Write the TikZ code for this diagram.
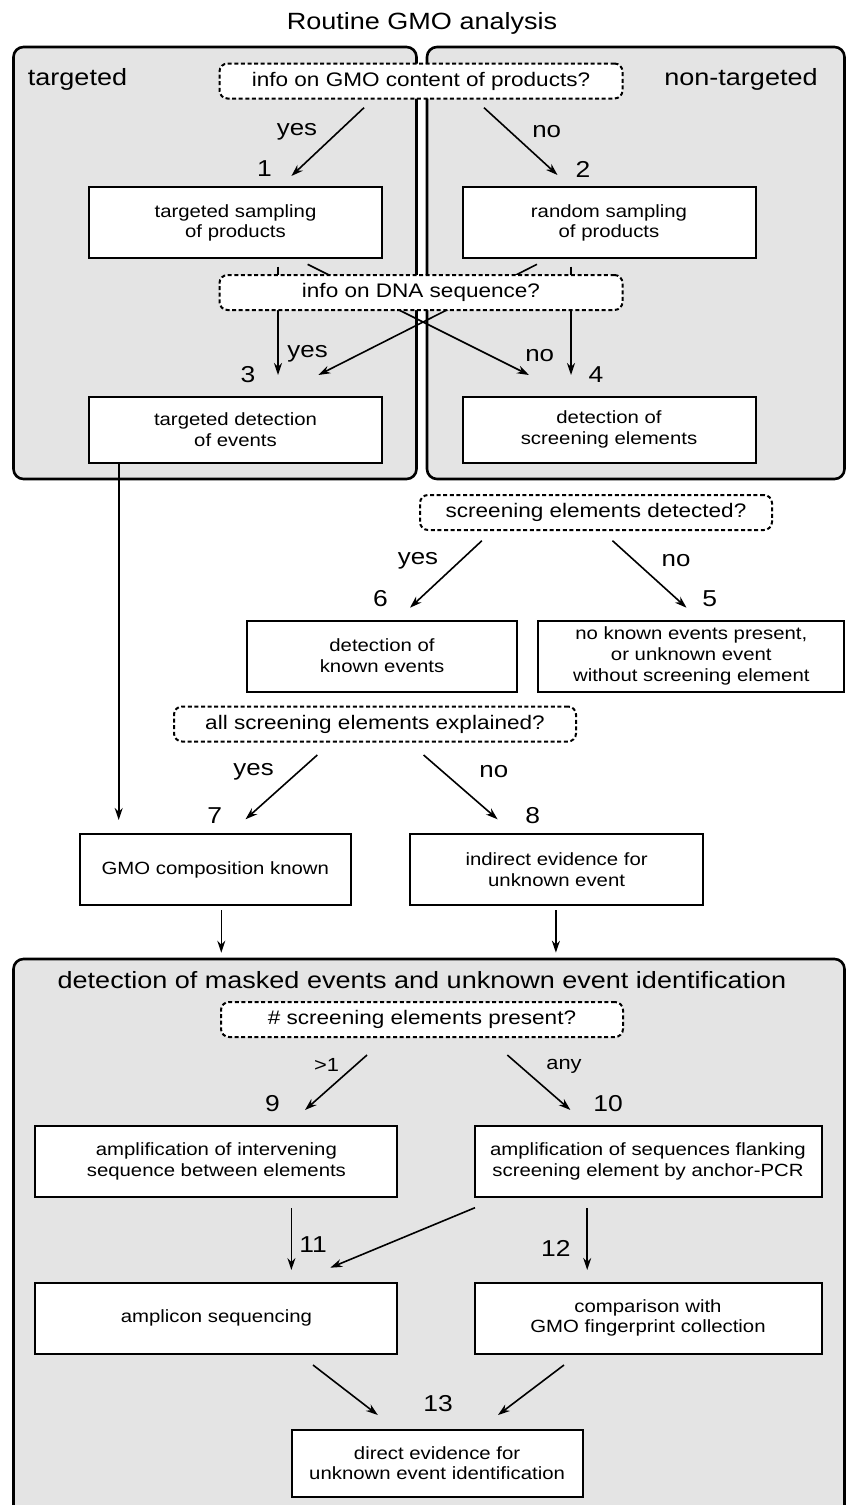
\documentclass[tikz,border=0pt]{standalone}
\usepackage{xcolor}
\usepackage{fontspec}
\setmainfont{Liberation Sans}[FakeStretch=1.15]
\usepackage{tikz}
\usetikzlibrary{positioning,shapes,arrows.meta}

\definecolor{panelgray}{RGB}{228,228,228}
\newcommand{\boxtxt}{\fontsize{17.7}{20.7}\selectfont}
\newcommand{\asktxt}{\fontsize{19.6}{22}\selectfont}
\newcommand{\headtxt}{\fontsize{23.5}{26}\selectfont}
\newcommand{\numtxt}{\fontsize{23}{26}\selectfont}
\newcommand{\labtxt}{\fontsize{22.5}{25}\selectfont}
\newcommand{\smalltxt}{\fontsize{19}{22}\selectfont}

\pgfdeclarelayer{back}
\pgfdeclarelayer{mid}
\pgfsetlayers{back,mid,main}

\begin{document}
\begin{tikzpicture}[
			x=1pt, y=-1pt,
			panel/.style={draw, line width=2.6pt, rounded corners=10pt, fill=panelgray},
			box/.style={draw, line width=2pt, fill=white, align=center,
				minimum height=71pt, inner sep=0pt, font=\boxtxt},
			query/.style={draw, dash pattern=on 4pt off 2.6pt, line width=2pt,
				rounded corners=8pt, fill=white, minimum height=35pt,
				inner sep=0pt, font=\asktxt},
			arr/.style={-{Stealth[length=12pt,width=8pt]}, line width=1.6pt},
			num/.style={font=\numtxt, inner sep=0pt},
			lab/.style={font=\labtxt, inner sep=0pt},
			sml/.style={font=\smalltxt, inner sep=0pt}]
			\useasboundingbox (0,0) rectangle (846,1505);
			\clip (0,0) rectangle (846,1505);
			
			% panels
			\begin{pgfonlayer}{back}
			\draw[panel] (13.5,47) rectangle (416.5,479);
			\draw[panel] (427,47) rectangle (844.5,479);
			\draw[panel] (13.5,959) rectangle (844.5,1540);
			\end{pgfonlayer}
			
			\node[font=\headtxt] (title) at (422,23) {Routine GMO analysis};
			\node[font=\headtxt] (targ) at (77.5,79) {targeted};
			\node[font=\headtxt] (ntarg) at (741,79) {non-targeted};
			\node[font=\headtxt] (mask) at (422,980) {detection of masked events and unknown event identification};
			
			% questions
			\node[query, minimum width=403pt] (q1) at (421,81) {info on GMO content of products?};
			\node[query, minimum width=403pt] (q2) at (421,292.5) {info on DNA sequence?};
			\node[query, minimum width=352pt] (q3) at (596,512.5) {screening elements detected?};
			\node[query, minimum width=402pt] (q4) at (375,724) {all screening elements explained?};
			\node[query, minimum width=402pt] (q5) at (422,1019.5) {\# screening elements present?};
			
			% steps
			\node[box, minimum width=293pt] (b1) at (235.5,222.8) {targeted sampling\\of products};
			\node[box, minimum width=293pt] (b2) at (609,222.8) {random sampling\\of products};
			\node[box, minimum width=293pt, minimum height=66pt] (b3) at (235.5,429.7) {targeted detection\\of events};
			\node[box, minimum width=293pt, minimum height=66pt] (b4) at (609,429.7) {detection of\\screening elements};
			\node[box, minimum width=270pt] (b6) at (382,656) {detection of\\known events};
			\node[box, minimum width=306pt] (b5) at (691.3,656) {no known events present,\\or unknown event\\without screening element};
			\node[box, minimum width=271pt] (b7) at (215.3,869.5) {GMO composition known};
			\node[box, minimum width=293pt] (b8) at (556.6,869.5) {indirect evidence for\\unknown event};
			\node[box, minimum width=362pt] (b9) at (216.4,1161.2) {amplification of intervening\\sequence between elements};
			\node[box, minimum width=347pt] (b10) at (648,1161.2) {amplification of sequences flanking\\screening element by anchor-PCR};
			\node[box, minimum width=362pt] (b11) at (216.4,1318) {amplicon sequencing};
			\node[box, minimum width=347pt] (b12) at (648,1318) {comparison with\\GMO fingerprint collection};
			\node[box, minimum width=291pt, minimum height=67pt] (b13) at (437.1,1463.3) {direct evidence for\\unknown event identification};
			
			% step numbers
			\foreach \n/\x/\y in {1/264.4/169, 2/583/169, 3/248/375, 4/596/375,
				6/380.5/598.3, 5/709.7/598.3, 7/214.8/816, 8/532.6/816,
				9/272.5/1103.3, 10/608/1103.3, 11/313/1245, 12/555.9/1248.3,
				13/438.2/1403.3}
				\node[num] (n\n) at (\x,\y) {\n};
			
			% answers
			\node[lab] (y1) at (297,132) {yes};
			\node[lab] (o1) at (546.7,132) {no};
			\node[lab] (y2) at (307.6,354) {yes};
			\node[lab] (o2) at (539.7,356) {no};
			\node[lab] (y3) at (418,561) {yes};
			\node[lab] (o3) at (676,561) {no};
			\node[lab] (y4) at (253.6,771.7) {yes};
			\node[lab] (o4) at (493.8,771.7) {no};
			\node[sml] (gt) at (326.5,1065) {>1};
			\node[sml] (any) at (564,1066) {any};
			
			% arrow ends
			\foreach \c/\x/\y in {s1/364/107.7, e1/291.4/176, s2/484/107.7, e2/557.5/175,
				s3/278/266.7, e3/278/375, s4/307.6/264.3, e4/529/375,
				s5/537/264.3, e5/318.4/375, s6/571/266.7, e6/571/375,
				s7/118.7/462.7, e7/118.7/820, s8/481.9/540.7, e8/410/607.7,
				s9/612.5/540.7, e9/686.5/607.7, s10/317.3/755, e10/245.5/819.3,
				s11/423.6/755, e11/497.6/819.3, s12/221.3/910, e12/221.3/952.7,
				s13/555.9/910, e13/555.9/952.7, s14/367/1055, e14/305/1110,
				s15/507.3/1055, e15/570.4/1110, s16/291.4/1208.3, e16/291.4/1270,
				s17/475/1207.7, e17/330.3/1267.7, s18/587.2/1208.3, e18/587.2/1270,
				s19/313/1365, e19/377.8/1415, s20/564/1365, e20/498/1415}
				\coordinate (\c) at (\x,\y);
			
			\begin{pgfonlayer}{mid}
			\foreach \i in {1,...,20}
				\draw[arr] (s\i) -- (e\i);
			\end{pgfonlayer}
			\end{tikzpicture}
\end{document}
